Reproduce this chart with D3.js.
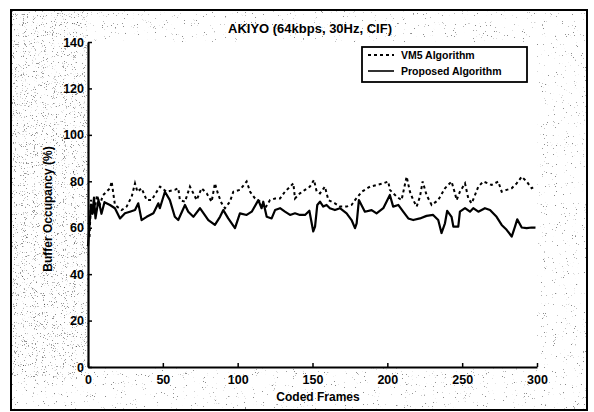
<!DOCTYPE html>
<html>
<head>
<meta charset="utf-8">
<script src="https://d3js.org/d3.v7.min.js"></script>
<style>
  body { margin: 0; background: #fff; }
  text { font-family: "Liberation Sans", Arial, sans-serif; font-weight: bold; fill: #000; }
</style>
</head>
<body>
<svg id="chart" width="594" height="412"></svg>
<script>
// values
var titleText = "AKIYO (64kbps, 30Hz, CIF)";
var xTicks = [0, 50, 100, 150, 200, 250, 300];
var yTicks = [0, 20, 40, 60, 80, 100, 120, 140];
var seriesNames = ["VM5 Algorithm", "Proposed Algorithm"];

var vm5Frames = [1, 2, 4, 6, 8, 10, 14.7, 15.8, 18, 22.5, 25.8, 29.2, 31.4, 33, 35.8, 39.2, 42.5, 45.9, 48.1, 52.5,
  58, 60.3, 61.4, 64.8, 68.1, 70.4, 72.6, 75.9, 79.3, 82.6, 84.8, 87.1, 89.3, 91.5, 94.8, 97.1, 101.5,
  106, 108.3, 111.6, 115, 118.3, 121.6, 125, 128.3, 131.6, 137.2, 138.3, 141.6, 145, 148.3, 151, 152.8,
  155, 158.3, 160.6, 165, 168.3, 172.8, 176.1, 178.4, 182.9, 188.4, 192.8, 197.3, 200.6, 201.7, 206.2,
  209.5, 212.9, 215.1, 217.3, 219.6, 221.8, 223.6, 226.2, 229.6, 234, 238.5, 242.9, 245.2, 246.3, 248.5,
  251.9, 254.1, 256.3, 258.6, 260.8, 264.1, 269.7, 274.1, 276.4, 279.7, 283.1, 286.4, 289.8, 293.1, 296.4, 299];
var vm5Values = [56, 72, 66, 74, 70, 74, 77, 79.9, 69.8, 67.6, 69.1, 73.4, 79.1, 75.5, 77, 71.9, 71.9, 75.5, 77.7, 75.5,
  76.3, 77, 71.9, 71.2, 77.7, 74.8, 71.9, 77, 74.8, 71.2, 79.1, 74.1, 70.5, 68.4, 71.2, 75.5, 76.3,
  79.9, 75.5, 72.6, 71.2, 68.4, 71.9, 72.6, 72.6, 75.5, 79.1, 72.6, 74.8, 76.3, 77.7, 80.6, 75.5,
  74.8, 77.7, 71.9, 70.5, 69.1, 69.1, 69.8, 71.9, 75.5, 77.7, 78.4, 79.1, 79.9, 76.3, 73.4,
  71.9, 82, 75.5, 71.9, 69.1, 73.4, 79.9, 74.1, 69.8, 71.9, 77, 79.9, 74.8, 71.9, 75.5,
  79.1, 72.6, 70.5, 74.1, 77.7, 79.9, 78.4, 79.9, 75.5, 76.3, 77, 79.1, 82, 79.9, 77, 78];

var propFrames = [0, 2, 3, 4, 5, 7, 9, 11, 14.7, 18, 21.4, 24.7, 28, 31.4, 33.6, 35.8, 39.2, 43.7, 47, 48, 51.4,
  54.7, 58, 60.3, 64.8, 67, 70.4, 74.8, 80.4, 84.8, 88.2, 90.4, 93.7, 98.2, 101.5, 106, 109.4, 113.8,
  116, 117.1, 119.4, 122.7, 125, 128.3, 131.6, 135, 138.3, 141.6, 145, 147.9, 150.5, 151.7, 153.2, 155,
  157.2, 159.4, 161.6, 165, 168.3, 172.8, 176.1, 178.4, 179.5, 181, 185, 189.5, 192.8, 197.3, 201.7,
  203.9, 207.3, 210.6, 214, 217.3, 221.8, 226.2, 230.6, 234, 236.2, 238.5, 240, 242.9, 244.1, 247.4,
  248.5, 251.9, 255.2, 257.4, 260.8, 265.2, 268.6, 273, 276.4, 279.7, 283.1, 285.3, 286.8, 289.8,
  293.1, 296.4, 299];
var propValues = [52, 70, 66, 73, 64, 72, 66, 71, 69.8, 68.4, 64, 66.2, 66.9, 67.6, 70.5, 63.3, 64.7, 66.2, 70.5, 68.4, 75.5,
  71.9, 64.7, 63.3, 69.8, 66.9, 64.7, 68.4, 63.3, 61.2, 64.7, 67.6, 64, 59.8, 66.2, 65.5, 66.9, 71.9,
  68.4, 71.2, 64.7, 64, 67.6, 68.4, 66.9, 65.5, 66.2, 65.5, 65.5, 67.3, 58.4, 60.5, 69.8, 71.2,
  69.1, 69.8, 68.4, 67.6, 68.4, 66.2, 63.3, 59.8, 61.9, 71.9, 66.9, 67.6, 66.2, 68.4, 74.1,
  69.1, 69.8, 66.9, 64, 63.3, 64, 65.1, 65.5, 63.3, 57.7, 61.9, 67.3, 64.7, 60.5, 60.5,
  66.9, 68.4, 66.9, 68.4, 66.9, 68.4, 67.6, 64.7, 61.2, 59.1, 56.2, 60.5, 63.6, 60.1,
  59.8, 60.1, 60];

var svg = d3.select("#chart");
var plotLeft = 88, plotRight = 537, plotTop = 42, plotBottom = 367;

var x = d3.scaleLinear().domain([0, 300]).range([plotLeft, plotRight]);
var y = d3.scaleLinear().domain([0, 140]).range([plotBottom, plotTop]);

// scanned paper grain
var defs = svg.append("defs");
function grain(id, seed, cut) {
  var f = defs.append("filter").attr("id", id).attr("x", 0).attr("y", 0).attr("width", 1).attr("height", 1);
  f.append("feTurbulence").attr("type", "fractalNoise").attr("baseFrequency", 0.9)
    .attr("numOctaves", 2).attr("seed", seed).attr("result", "n");
  f.append("feColorMatrix").attr("in", "n").attr("type", "matrix")
    .attr("values", "0 0 0 0 0  0 0 0 0 0  0 0 0 0 0  14 0 0 0 " + cut);
}
grain("speck", 7, -9.9);
grain("speck2", 3, -9.3);

svg.append("rect").attr("x", 0).attr("y", 0).attr("width", 594).attr("height", 412).attr("fill", "#fff");
svg.append("rect").attr("x", 12).attr("y", 11).attr("width", 574).attr("height", 398)
  .attr("fill", "#000").attr("filter", "url(#speck)").attr("opacity", 0.45);
svg.append("rect").attr("x", 12).attr("y", 11).attr("width", 76).attr("height", 370)
  .attr("fill", "#000").attr("filter", "url(#speck2)").attr("opacity", 0.4);
svg.append("rect").attr("x", plotLeft).attr("y", plotTop)
  .attr("width", plotRight - plotLeft).attr("height", plotBottom - plotTop)
  .attr("fill", "#fff");

// outer frame
svg.append("rect").attr("x", 11).attr("y", 10).attr("width", 576).attr("height", 400)
  .attr("fill", "none").attr("stroke", "#000").attr("stroke-width", 2);

// axes
var xAxis = svg.append("g").attr("transform", "translate(0," + plotBottom + ")")
  .call(d3.axisBottom(x).tickValues(xTicks).tickSizeInner(-4).tickSizeOuter(0).tickPadding(8));
var yAxis = svg.append("g").attr("transform", "translate(" + plotLeft + ",0)")
  .call(d3.axisLeft(y).tickValues(yTicks).tickSizeInner(-4).tickSizeOuter(0).tickPadding(4));
[xAxis, yAxis].forEach(function (g) {
  g.attr("font-family", null).attr("font-size", null);
  g.select(".domain").attr("stroke", "#000").attr("stroke-width", 2.2);
  g.selectAll(".tick line").attr("stroke", "#000").attr("stroke-width", 1.5);
  g.selectAll(".tick text").style("font-size", "12.5px").attr("fill", "#000");
});

// series
var vm5 = vm5Frames.map(function (f, i) { return [f, vm5Values[i]]; });
var prop = propFrames.map(function (f, i) { return [f, propValues[i]]; });
var line = d3.line().x(function (d) { return x(d[0]); }).y(function (d) { return y(d[1]); });

svg.append("path").datum(vm5).attr("d", line).attr("fill", "none")
  .attr("stroke", "#000").attr("stroke-width", 2).attr("stroke-dasharray", "3,3");
svg.append("path").datum(prop).attr("d", line).attr("fill", "none")
  .attr("stroke", "#000").attr("stroke-width", 2.2).attr("stroke-linejoin", "round");

// title and labels
svg.append("text").attr("x", 310).attr("y", 33).attr("text-anchor", "middle")
  .style("font-size", "13px").text(titleText);
svg.append("text").attr("x", 318).attr("y", 401).attr("text-anchor", "middle")
  .style("font-size", "12px").text("Coded Frames");
svg.append("text").attr("transform", "translate(52,209) rotate(-90)").attr("text-anchor", "middle")
  .style("font-size", "12px").text("Buffer Occupancy (%)");

// legend
var legend = svg.append("g");
legend.append("rect").attr("x", 362).attr("y", 47).attr("width", 165).attr("height", 35)
  .attr("fill", "#fff").attr("stroke", "#000").attr("stroke-width", 1.8);
var dashes = ["3,3", null];
seriesNames.forEach(function (name, i) {
  var ly = 55 + i * 16;
  legend.append("line").attr("x1", 368).attr("x2", 394).attr("y1", ly).attr("y2", ly)
    .attr("stroke", "#000").attr("stroke-width", i ? 1.6 : 2).attr("stroke-dasharray", dashes[i]);
  legend.append("text").attr("x", 401).attr("y", ly + 4).style("font-size", "10.5px").text(name);
});
</script>
</body>
</html>
